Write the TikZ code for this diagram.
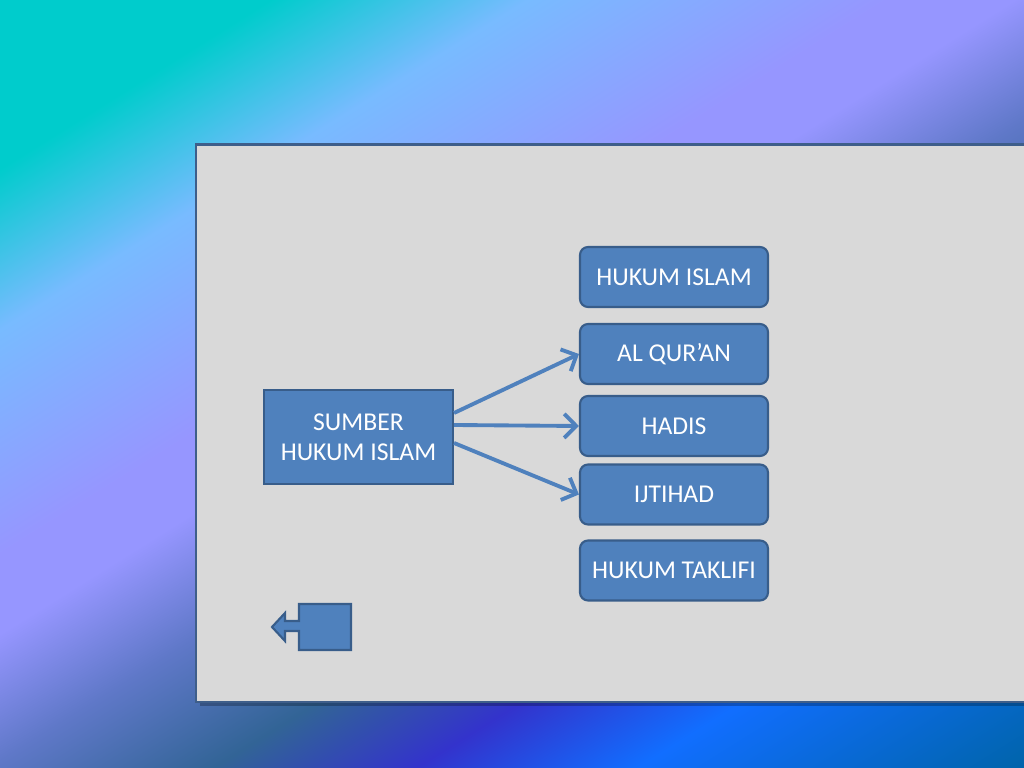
\documentclass[tikz,border=0pt]{standalone}
\usepackage{fontspec}
\setmainfont{Carlito}
\usetikzlibrary{arrows.meta,positioning}

\definecolor{boxblue}{RGB}{79,129,189}
\definecolor{boxline}{RGB}{56,93,138}
\definecolor{panelgray}{RGB}{217,217,217}
\definecolor{panelline}{RGB}{62,94,138}
\definecolor{bgA}{RGB}{0,204,204}
\definecolor{bgB}{RGB}{120,187,255}
\definecolor{bgC}{RGB}{150,150,255}
\definecolor{bgD}{RGB}{95,120,200}
\definecolor{bgE}{RGB}{50,100,150}
\definecolor{bgF}{RGB}{51,51,204}
\definecolor{bgG}{RGB}{17,110,255}
\definecolor{bgH}{RGB}{0,100,170}
\pgfdeclarehorizontalshading{slideshade}{100bp}{color(0bp)=(bgA); color(25bp)=(bgA);
  color(31bp)=(bgA); color(36.7bp)=(bgB); color(44.7bp)=(bgC); color(47.5bp)=(bgC);
  color(52bp)=(bgD); color(57bp)=(bgE); color(61.5bp)=(bgF); color(66.4bp)=(bgG);
  color(75bp)=(bgH); color(100bp)=(bgH)}

\begin{document}
\begin{tikzpicture}
  [x=0.1mm,y=-0.1mm,
   src node/.style={rectangle,draw=boxline,fill=boxblue,line width=0.6pt,text=white,
     align=center,minimum width=18.9mm,minimum height=9.4mm,inner sep=0pt,
     font=\fontsize{7.3}{8.5}\selectfont},
   item node/.style={src node,rounded corners=0.8mm,minimum width=18.8mm,minimum height=6mm},
   link/.style={draw=boxblue,line width=1.1pt,-{Straight Barb[length=1.2mm,width=2.4mm]}},
   panel/.style={draw=panelline,fill=panelgray,line width=0.85pt},
   back btn/.style={draw=boxline,fill=boxblue,line width=0.6pt}]
  \useasboundingbox (0,0) rectangle (1024,768);

  % slide background
  \begin{scope}
    \clip (0,0) rectangle (1024,768);
    \begin{scope}[transform canvas={rotate=-58}]
      \shade[shading=slideshade] (0,-1000) rectangle (1194,1000);
    \end{scope}
  \end{scope}
  \fill[black,opacity=0.25] (200,702) rectangle (1030,706);
  \draw[panel] (196,145) rectangle (1030,702);

  \node[src node] (sumber) at (358.5,437) {SUMBER\\HUKUM ISLAM};

  \node[item node] (hukum) at (674,277) {HUKUM ISLAM};
  \node[item node] (quran) at (674,354) {AL QUR’AN};
  \node[item node] (hadis) at (674,426) {HADIS};
  \node[item node] (ijtihad) at (674,494.5) {IJTIHAD};
  \node[item node] (taklifi) at (674,570.5) {HUKUM TAKLIFI};

  \draw[link] ([yshift=2.4mm]sumber.east) -- (quran.west);
  \draw[link] ([yshift=1.2mm]sumber.east) -- (hadis.west);
  \draw[link] ([yshift=-0.6mm]sumber.east) -- (ijtihad.west);

  % back button
  \draw[back btn] (299,604) -- (351,604) -- (351,650) -- (299,650) -- (299,631)
    -- (285,631) -- (285,641) -- (272,627) -- (285,613) -- (285,621) -- (299,621) -- cycle;
\end{tikzpicture}
\end{document}
